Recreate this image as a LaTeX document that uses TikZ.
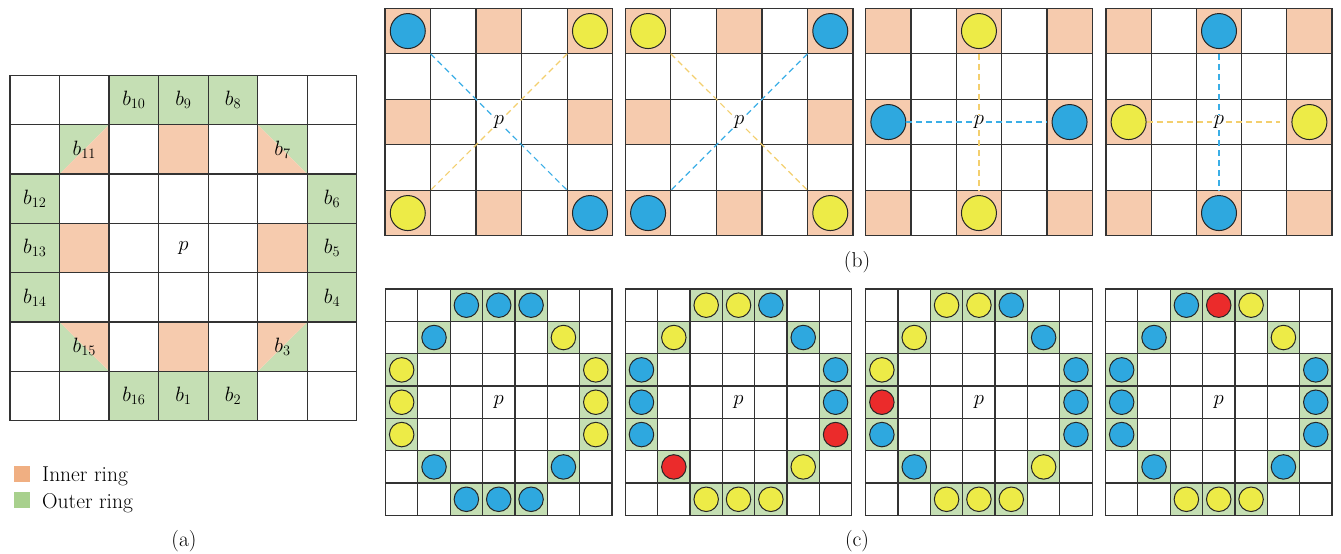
\documentclass[tikz,border=0pt]{standalone}
\definecolor{orng}{HTML}{F6CBAE}
\definecolor{grn}{HTML}{C5DFB4}
\definecolor{lorng}{HTML}{F0AF82}
\definecolor{lgrn}{HTML}{A8D08D}
\definecolor{cblue}{HTML}{2EA8DF}
\definecolor{cyel}{HTML}{EDEB47}
\definecolor{cred}{HTML}{EB2B2B}
\definecolor{dblue}{HTML}{3BAEE6}
\definecolor{dyel}{HTML}{F3CF6E}
\definecolor{gridc}{HTML}{333333}
\tikzset{
 gridline/.style={draw=gridc, line width=1.25pt, line cap=rect},
 ballb/.style={circle, draw=black!85, line width=1pt, minimum size=35pt, inner sep=0pt},
 ballc/.style={circle, draw=black!85, line width=1pt, minimum size=24.5pt, inner sep=0pt},
 lab/.style={font=\fontsize{21.5}{24}\selectfont, inner sep=0pt},
 plab/.style={font=\fontsize{21.5}{24}\selectfont, fill=white, inner sep=1.5pt},
 dashb/.style={draw=dblue, line width=1.2pt, dash pattern=on 6pt off 4pt},
 dashy/.style={draw=dyel, line width=1.2pt, dash pattern=on 6pt off 4pt},
}
\newcommand\drawgridlines[1]{\foreach \i in {0,...,#1}{\draw[gridline] (\i,0) -- (\i,#1); \draw[gridline] (0,\i) -- (#1,\i);}}
\newcommand\bpanelbase[2]{%
 \foreach \c/\r in {0/0,2/0,4/0,0/2,4/2,0/4,2/4,4/4}{\fill[orng] (\c,\r) rectangle ++(1,1);}
 \drawgridlines{5}
}
\newcommand\cpanel[3]{%
\begin{scope}[shift={(#1,289)}, x=32.35pt, y=-32.35pt]
 \foreach \c/\r in {2/0,3/0,4/0,1/1,5/1,0/2,0/3,0/4,6/2,6/3,6/4,1/5,5/5,2/6,3/6,4/6}{\fill[grn] (\c,\r) rectangle ++(1,1);}
 \drawgridlines{7}
 \node[lab] (#2p) at (3.5,3.5) {$p$};
 \foreach \c/\r/\col [count=\k] in {#3}{\node[ballc, fill=\col] (#2b\k) at (\c+0.5,\r+0.5) {};}
\end{scope}}
\begin{document}
\begin{tikzpicture}[x=1pt, y=-1pt]
\useasboundingbox (0,0) rectangle (1341,554);
% ---------------- panel (a)
\begin{scope}[shift={(10,75.5)}, x=49.55pt, y=-49.3pt]
 \foreach \c/\r in {2/0,3/0,4/0,0/2,0/3,0/4,6/2,6/3,6/4,2/6,3/6,4/6}{\fill[grn] (\c,\r) rectangle ++(1,1);}
 \foreach \c/\r in {3/1,1/3,5/3,3/5}{\fill[orng] (\c,\r) rectangle ++(1,1);}
 % half cells
 \fill[grn] (1,1) -- (2,1) -- (1,2) -- cycle;
 \fill[orng] (2,1) -- (2,2) -- (1,2) -- cycle;
 \fill[grn] (5,1) -- (6,1) -- (6,2) -- cycle;
 \fill[orng] (5,1) -- (5,2) -- (6,2) -- cycle;
 \fill[grn] (1,5) -- (1,6) -- (2,6) -- cycle;
 \fill[orng] (1,5) -- (2,5) -- (2,6) -- cycle;
 \fill[grn] (6,5) -- (6,6) -- (5,6) -- cycle;
 \fill[orng] (5,5) -- (6,5) -- (5,6) -- cycle;
 \drawgridlines{7}
 \node[lab] (ap) at (3.5,3.5) {$p$};
 \node[lab] (ab1) at (3.5,6.5) {$b_{1}$};
 \node[lab] (ab2) at (4.5,6.5) {$b_{2}$};
 \node[lab] (ab3) at (5.5,5.5) {$b_{3}$};
 \node[lab] (ab4) at (6.5,4.5) {$b_{4}$};
 \node[lab] (ab5) at (6.5,3.5) {$b_{5}$};
 \node[lab] (ab6) at (6.5,2.5) {$b_{6}$};
 \node[lab] (ab7) at (5.5,1.5) {$b_{7}$};
 \node[lab] (ab8) at (4.5,0.5) {$b_{8}$};
 \node[lab] (ab9) at (3.5,0.5) {$b_{9}$};
 \node[lab] (ab10) at (2.5,0.5) {$b_{10}$};
 \node[lab] (ab11) at (1.5,1.5) {$b_{11}$};
 \node[lab] (ab12) at (0.5,2.5) {$b_{12}$};
 \node[lab] (ab13) at (0.5,3.5) {$b_{13}$};
 \node[lab] (ab14) at (0.5,4.5) {$b_{14}$};
 \node[lab] (ab15) at (1.5,5.5) {$b_{15}$};
 \node[lab] (ab16) at (2.5,6.5) {$b_{16}$};
\end{scope}
% legend
\fill[lorng] (14,466) rectangle (30,481.7);
\fill[lgrn] (14,491.7) rectangle (30,507.7);
\node[lab, anchor=base west] (leg1) at (42,481.5) {Inner ring};
\node[lab, anchor=base west] (leg2) at (42,508) {Outer ring};
\node[lab] (capa) at (184,541.5) {(a)};
% ---------------- panel (b)
\begin{scope}[shift={(385,8.3)}, x=45.55pt, y=-45.5pt]
 \bpanelbase{}{}
 \node[plab] (b1p) at (2.5,2.5) {$p$};
 \coordinate (b1c1) at (1,1); \coordinate (b1c2) at (4,4);
 \coordinate (b1c3) at (4,1); \coordinate (b1c4) at (1,4);
 \draw[dashb] (b1c1) -- (b1p); \draw[dashb] (b1p) -- (b1c2);
 \draw[dashy] (b1c3) -- (b1p); \draw[dashy] (b1p) -- (b1c4);
 \node[ballb, fill=cblue] (b1tl) at (0.5,0.5) {};
 \node[ballb, fill=cyel] (b1tr) at (4.5,0.5) {};
 \node[ballb, fill=cyel] (b1bl) at (0.5,4.5) {};
 \node[ballb, fill=cblue] (b1br) at (4.5,4.5) {};
\end{scope}
\begin{scope}[shift={(625.3,8.3)}, x=45.55pt, y=-45.5pt]
 \bpanelbase{}{}
 \node[plab] (b2p) at (2.5,2.5) {$p$};
 \coordinate (b2c1) at (1,1); \coordinate (b2c2) at (4,4);
 \coordinate (b2c3) at (4,1); \coordinate (b2c4) at (1,4);
 \draw[dashy] (b2c1) -- (b2p); \draw[dashy] (b2p) -- (b2c2);
 \draw[dashb] (b2c3) -- (b2p); \draw[dashb] (b2p) -- (b2c4);
 \node[ballb, fill=cyel] (b2tl) at (0.5,0.5) {};
 \node[ballb, fill=cblue] (b2tr) at (4.5,0.5) {};
 \node[ballb, fill=cblue] (b2bl) at (0.5,4.5) {};
 \node[ballb, fill=cyel] (b2br) at (4.5,4.5) {};
\end{scope}
\begin{scope}[shift={(865.7,8.3)}, x=45.3pt, y=-45.5pt]
 \bpanelbase{}{}
 \node[plab] (b3p) at (2.5,2.5) {$p$};
 \coordinate (b3c1) at (2.5,1); \coordinate (b3c2) at (2.5,4);
 \coordinate (b3c3) at (4,2.5);
 \node[ballb, fill=cyel] (b3t) at (2.5,0.5) {};
 \node[ballb, fill=cyel] (b3b) at (2.5,4.5) {};
 \node[ballb, fill=cblue] (b3l) at (0.5,2.5) {};
 \node[ballb, fill=cblue] (b3r) at (4.5,2.5) {};
 \draw[dashy] (b3c1) -- (b3p); \draw[dashy] (b3p) -- (b3c2);
 \draw[dashb] (b3l) -- (b3p); \draw[dashb] (b3p) -- (b3c3);
\end{scope}
\begin{scope}[shift={(1106,8.3)}, x=45.2pt, y=-45.5pt]
 \bpanelbase{}{}
 \node[plab] (b4p) at (2.5,2.5) {$p$};
 \coordinate (b4c1) at (2.5,1); \coordinate (b4c2) at (2.5,4);
 \coordinate (b4c3) at (3.85,2.5);
 \node[ballb, fill=cblue] (b4t) at (2.5,0.5) {};
 \node[ballb, fill=cblue] (b4b) at (2.5,4.5) {};
 \node[ballb, fill=cyel] (b4l) at (0.5,2.5) {};
 \node[ballb, fill=cyel] (b4r) at (4.5,2.5) {};
 \draw[dashb] (b4c1) -- (b4p); \draw[dashb] (b4p) -- (b4c2);
 \draw[dashy] (b4l) -- (b4p); \draw[dashy] (b4p) -- (b4c3);
\end{scope}
\node[lab] (capb) at (857,262) {(b)};
% ---------------- panel (c)
\cpanel{385.5}{cA}{2/0/cblue,3/0/cblue,4/0/cblue,1/1/cblue,5/1/cyel,0/2/cyel,0/3/cyel,0/4/cyel,6/2/cyel,6/3/cyel,6/4/cyel,1/5/cblue,5/5/cblue,2/6/cblue,3/6/cblue,4/6/cblue}
\cpanel{625.3}{cB}{2/0/cyel,3/0/cyel,4/0/cblue,1/1/cyel,5/1/cblue,0/2/cblue,0/3/cblue,0/4/cblue,6/2/cblue,6/3/cblue,6/4/cred,1/5/cred,5/5/cyel,2/6/cyel,3/6/cyel,4/6/cyel}
\cpanel{865.7}{cC}{2/0/cyel,3/0/cyel,4/0/cblue,1/1/cyel,5/1/cblue,0/2/cyel,0/3/cred,0/4/cblue,6/2/cblue,6/3/cblue,6/4/cblue,1/5/cblue,5/5/cyel,2/6/cyel,3/6/cyel,4/6/cyel}
\cpanel{1105.5}{cD}{2/0/cblue,3/0/cred,4/0/cyel,1/1/cblue,5/1/cyel,0/2/cblue,0/3/cblue,0/4/cblue,6/2/cblue,6/3/cblue,6/4/cblue,1/5/cblue,5/5/cblue,2/6/cyel,3/6/cyel,4/6/cyel}
\node[lab] (capc) at (857,541.5) {(c)};
\end{tikzpicture}
\end{document}
